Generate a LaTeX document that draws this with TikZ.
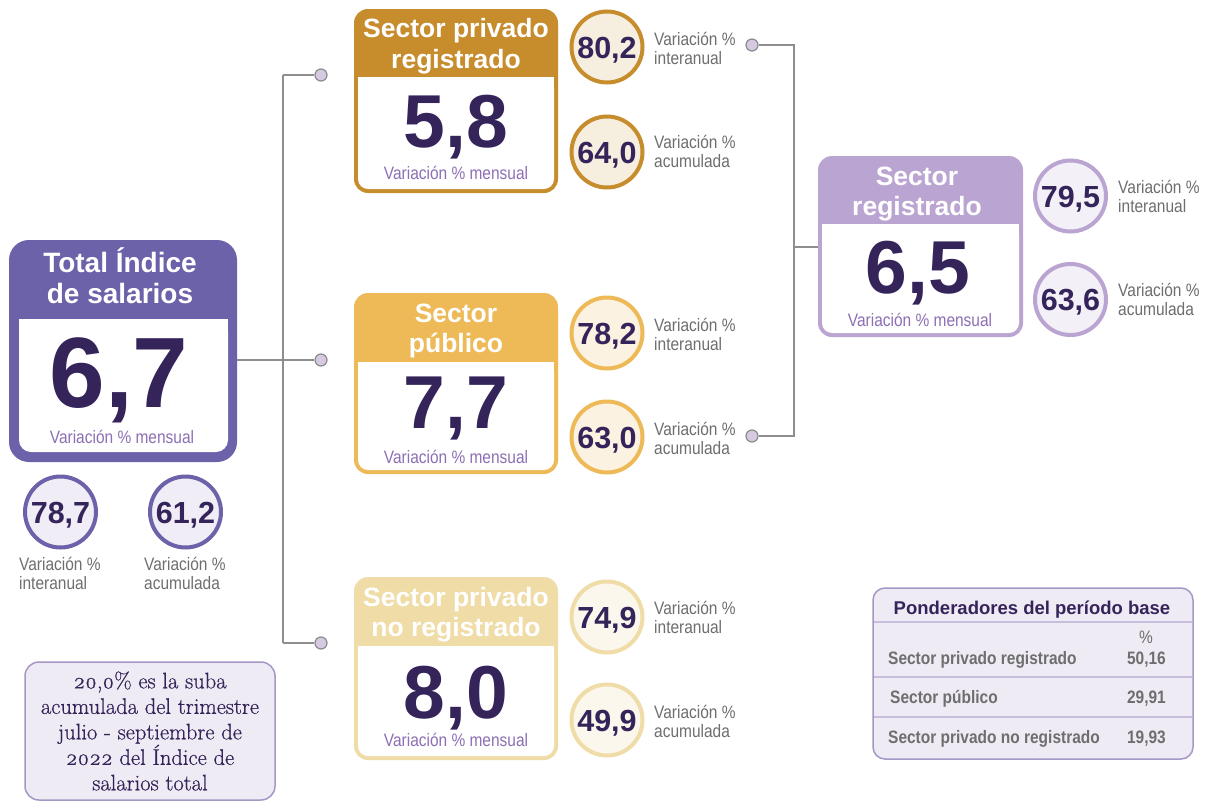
\documentclass[tikz,border=0pt]{standalone}
\usepackage{fontspec}
\setmainfont{Liberation Sans}
\newfontfamily\condf[FakeStretch=0.86]{Liberation Sans}
\newfontfamily\notef[Numbers=OldStyle,FakeBold=0.6]{Latin Modern Roman}
\definecolor{dark}{HTML}{35245A}
\definecolor{menscol}{HTML}{8D6FB4}
\definecolor{labgray}{HTML}{6E6E6E}
\definecolor{totc}{HTML}{6B62A9}
\definecolor{goldc}{HTML}{C78C2C}
\definecolor{yelc}{HTML}{EDBA57}
\definecolor{beic}{HTML}{EFDCA7}
\definecolor{lavc}{HTML}{BAA4D1}
\definecolor{totf}{HTML}{F0EDF6}
\definecolor{goldf}{HTML}{F6EEDF}
\definecolor{yelf}{HTML}{FBF2E1}
\definecolor{beif}{HTML}{FBF7EC}
\definecolor{lavf}{HTML}{F3F0F7}
\definecolor{dotf}{HTML}{D6C9E2}
\definecolor{dotb}{HTML}{8B8B8B}
\definecolor{linec}{HTML}{8E8E8E}
\definecolor{tabf}{HTML}{EFEBF4}
\definecolor{tabb}{HTML}{A597C6}
\definecolor{tabs}{HTML}{C8BEDC}
\begin{document}
\begin{tikzpicture}[x=1pt,y=-1pt,
  conn/.style={draw=linec, line width=2},
  dotnode/.style={circle, draw=dotb, fill=dotf, line width=1.2, minimum size=12, inner sep=0},
  outerbox/.style={rectangle, rounded corners=14, inner sep=0},
  circ/.style={circle, line width=4, minimum size=71, inner sep=0, text=dark,
     font=\bfseries\fontsize{30.5}{30}\selectfont, text height=22pt, text depth=0pt},
  ttl/.style={anchor=base, text=white, inner sep=0, font=\bfseries\fontsize{26.5}{30}\selectfont},
  bignum/.style={anchor=base, text=dark, inner sep=0, font=\bfseries\fontsize{75}{75}\selectfont},
  mens/.style={anchor=base, text=menscol, inner sep=0, font=\condf\fontsize{18}{18}\selectfont},
  lab/.style={anchor=west, text=labgray, inner sep=0, align=left, font=\condf\fontsize{18}{19}\selectfont},
  tabtxt/.style={text=labgray, inner sep=0, font=\condf\bfseries\fontsize{18}{18}\selectfont},
]
\useasboundingbox (0,0) rectangle (1210,803);
\fill[white] (0,0) rectangle (1210,803);

% ---------- connector dots and junctions ----------
\node[dotnode] (d1) at (321,75) {};
\node[dotnode] (d2) at (321,360) {};
\node[dotnode] (d3) at (321,643) {};
\node[dotnode] (d4) at (752,45) {};
\node[dotnode] (d5) at (752,436) {};
\coordinate (bus1) at (283,75);
\coordinate (bus3) at (283,643);
\coordinate (rb1) at (794,45);
\coordinate (rb2) at (794,436);

% ---------- Total box ----------
\node[outerbox, rounded corners=20, fill=totc, minimum width=228, minimum height=222] (tot) at (123,351) {};
\fill[white, rounded corners=12] (19,319) rectangle (228,452);
\fill[white] (19,319) rectangle (228,340);
\node[ttl, font=\bfseries\fontsize{28}{30}\selectfont] (tot-t1) at (120,272) {Total Índice};
\node[ttl, font=\bfseries\fontsize{28}{30}\selectfont] (tot-t2) at (120,303) {de salarios};
\node[bignum, font=\bfseries\fontsize{100}{100}\selectfont] (tot-n) at (119,407) {6,7};
\node[mens] (tot-l) at (122,443.5) {Variación \% mensual};
\node[circ, draw=totc, fill=totf] (tot-c1) at (60.5,512) {78,7};
\node[circ, draw=totc, fill=totf] (tot-c2) at (185.5,512) {61,2};
\node[lab] (tot-l1) at (19,573.5) {Variación \%\\interanual};
\node[lab] (tot-l2) at (144,573.5) {Variación \%\\acumulada};

% ---------- Sector privado registrado ----------
\node[outerbox, fill=goldc, minimum width=204, minimum height=184] (spr) at (456,101) {};
\fill[white, rounded corners=10] (358,77) rectangle (554,189);
\fill[white] (358,77) rectangle (554,95);
\node[ttl] (spr-t1) at (456,37) {Sector privado};
\node[ttl] (spr-t2) at (456,68) {registrado};
\node[bignum] (spr-n) at (456,147) {5,8};
\node[mens] (spr-l) at (456,179.5) {Variación \% mensual};
\node[circ, draw=goldc, fill=goldf] (spr-c1) at (607,47) {80,2};
\node[circ, draw=goldc, fill=goldf] (spr-c2) at (607,152) {64,0};
\node[lab] (spr-l1) at (654,48.5) {Variación \%\\interanual};
\node[lab] (spr-l2) at (654,151) {Variación \%\\acumulada};

% ---------- Sector publico ----------
\node[outerbox, fill=yelc, minimum width=204, minimum height=181] (spu) at (456,383.5) {};
\fill[white, rounded corners=10] (358,362) rectangle (554,470);
\fill[white] (358,362) rectangle (554,380);
\node[ttl] (spu-t1) at (456,322) {Sector};
\node[ttl] (spu-t2) at (456,352) {público};
\node[bignum] (spu-n) at (456,428) {7,7};
\node[mens] (spu-l) at (456,463.5) {Variación \% mensual};
\node[circ, draw=yelc, fill=yelf] (spu-c1) at (607,333) {78,2};
\node[circ, draw=yelc, fill=yelf] (spu-c2) at (607,437) {63,0};
\node[lab] (spu-l1) at (654,334.5) {Variación \%\\interanual};
\node[lab] (spu-l2) at (654,438.5) {Variación \%\\acumulada};

% ---------- Sector privado no registrado ----------
\node[outerbox, fill=beic, minimum width=204, minimum height=183] (snr) at (456,668.5) {};
\fill[white, rounded corners=10] (358,646) rectangle (554,756);
\fill[white] (358,646) rectangle (554,664);
\node[ttl] (snr-t1) at (456,606) {Sector privado};
\node[ttl] (snr-t2) at (456,636) {no registrado};
\node[bignum] (snr-n) at (456,718) {8,0};
\node[mens] (snr-l) at (456,746.5) {Variación \% mensual};
\node[circ, draw=beic, fill=beif] (snr-c1) at (607,617) {74,9};
\node[circ, draw=beic, fill=beif] (snr-c2) at (607,720) {49,9};
\node[lab] (snr-l1) at (654,617.5) {Variación \%\\interanual};
\node[lab] (snr-l2) at (654,721.5) {Variación \%\\acumulada};

% ---------- Sector registrado ----------
\node[outerbox, fill=lavc, minimum width=205, minimum height=181] (sr) at (920.5,246.5) {};
\fill[white, rounded corners=10] (822,224) rectangle (1019,333);
\fill[white] (822,224) rectangle (1019,242);
\node[ttl] (sr-t1) at (917,185) {Sector};
\node[ttl] (sr-t2) at (917,215) {registrado};
\node[bignum] (sr-n) at (918,293) {6,5};
\node[mens] (sr-l) at (920,326.5) {Variación \% mensual};
\node[circ, draw=lavc, fill=lavf] (sr-c1) at (1070.5,196) {79,5};
\node[circ, draw=lavc, fill=lavf] (sr-c2) at (1070.5,299.5) {63,6};
\node[lab] (sr-l1) at (1118,196.5) {Variación \%\\interanual};
\node[lab] (sr-l2) at (1118,299.5) {Variación \%\\acumulada};

% ---------- connector lines ----------
\draw[conn] (bus1) -- (bus3);
\draw[conn] (bus1) -- (d1);
\draw[conn] (bus3) -- (d3);
\draw[conn] (tot.east |- d2) -- (d2);
\draw[conn] (d4) -- (rb1) -- (rb2) -- (d5);
\draw[conn] (rb1 |- sr.west) -- (sr.west);

% ---------- table ----------
\node[rectangle, rounded corners=12, fill=tabf, draw=tabb, line width=1.5, minimum width=320, minimum height=171] (tab) at (1033,673.5) {};
\draw[tabs, line width=1.5] (874,622) -- (1192,622);
\draw[tabs, line width=1.5] (874,677) -- (1192,677);
\draw[tabs, line width=1.5] (874,717) -- (1192,717);
\node[text=dark, inner sep=0, font=\bfseries\fontsize{18.5}{18.5}\selectfont, text height=13pt, text depth=0pt] (tab-h) at (1032,608) {Ponderadores del período base};
\node[text=labgray, inner sep=0, font=\condf\fontsize{18}{18}\selectfont, text height=13pt, text depth=0pt] (tab-p) at (1146,637) {\%};
\node[tabtxt, anchor=west, text height=13pt, text depth=0pt] (tab-r1) at (888,658) {Sector privado registrado};
\node[tabtxt, anchor=east, text height=13pt, text depth=0pt] (tab-v1) at (1166,658) {50,16};
\node[tabtxt, anchor=west, text height=13pt, text depth=0pt] (tab-r2) at (890,697) {Sector público};
\node[tabtxt, anchor=east, text height=13pt, text depth=0pt] (tab-v2) at (1166,697) {29,91};
\node[tabtxt, anchor=west, text height=13pt, text depth=0pt] (tab-r3) at (888,737) {Sector privado no registrado};
\node[tabtxt, anchor=east, text height=13pt, text depth=0pt] (tab-v3) at (1166,737) {19,93};

% ---------- note ----------
\node[rectangle, rounded corners=14, fill=tabf, draw=tabb, line width=1.5, minimum width=250, minimum height=138] (note) at (150,731) {};
\node[text=dark, align=center, inner sep=0, font=\notef\fontsize{22.5}{25.5}\selectfont] (note-t) at (150,731) {20,0\% es la suba\\acumulada del trimestre\\julio - septiembre de\\2022 del Índice de\\salarios total};
\end{tikzpicture}
\end{document}
